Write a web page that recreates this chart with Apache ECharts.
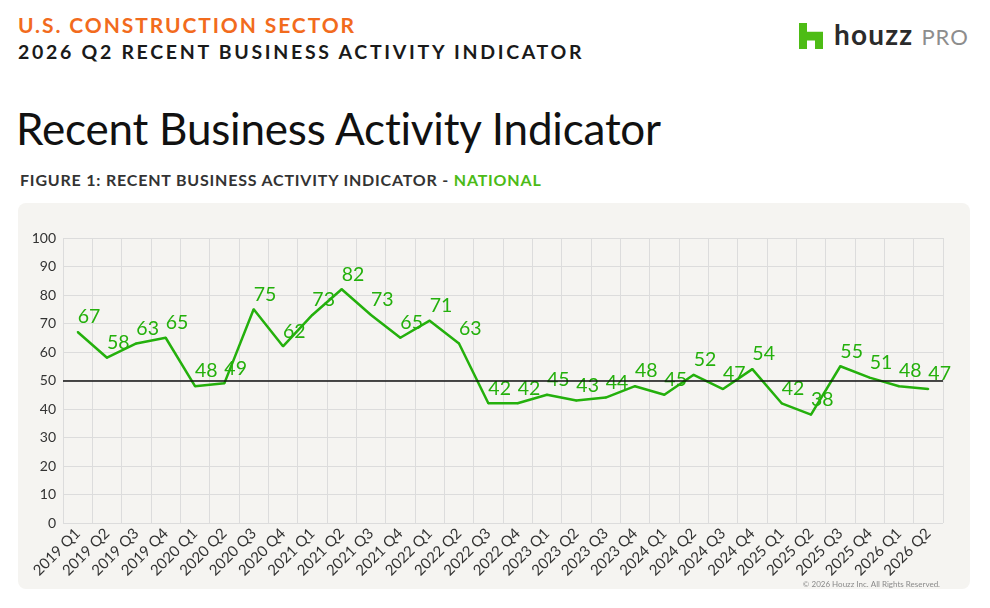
<!DOCTYPE html>
<html>
<head>
<meta charset="utf-8">
<script src="https://cdn.jsdelivr.net/npm/echarts@6/dist/echarts.min.js"></script>
<style>
    html, body { margin: 0; padding: 0; background: #fff; }
    body { width: 990px; height: 608px; position: relative; overflow: hidden; font-family: 'Lato', 'Noto Sans', sans-serif; }
    .kicker { position: absolute; left: 18px; top: 12px; font-size: 21px; font-weight: 700; color: #f26b1d; letter-spacing: 1.9px; }
    .sub { position: absolute; left: 18px; top: 40px; font-size: 19.5px; font-weight: 700; color: #1a1a1a; letter-spacing: 2.7px; }
    .headline { position: absolute; left: 16px; top: 102px; font-size: 44px; font-weight: 400; color: #111; letter-spacing: -0.2px; }
    .figure { position: absolute; left: 20px; top: 170px; font-size: 16px; font-weight: 700; color: #333; letter-spacing: 0.8px; }
    .figure span { color: #4cbb17; }
    .logo { position: absolute; left: 799px; top: 23px; }
    .logo-text { position: absolute; left: 834px; top: 17px; font-size: 28px; font-weight: 700; color: #2b2b2b; letter-spacing: 1.2px; }
    .logo-text span { color: #8d8d8d; font-weight: 400; font-size: 22px; margin-left: 8px; letter-spacing: 1px; }
    .panel { position: absolute; left: 18px; top: 203px; width: 952px; height: 386px; background: #f5f4f1; border-radius: 8px; }
    #chart { position: absolute; left: 0; top: 0; width: 990px; height: 608px; }
</style>
</head>
<body>
<div class="kicker">U.S. CONSTRUCTION SECTOR</div>
<div class="sub">2026 Q2 RECENT BUSINESS ACTIVITY INDICATOR</div>
<svg class="logo" width="24" height="26" viewBox="0 0 3 3.25">
    <polygon points="0,0 1,0 1,1.1 3,1.1 3,3.25 2,3.25 2,2.2 1,2.2 1,3.25 0,3.25" fill="#4dbc15"/>
</svg>
<div class="logo-text">houzz<span>PRO</span></div>
<div class="headline">Recent Business Activity Indicator</div>
<div class="figure">FIGURE 1: RECENT BUSINESS ACTIVITY INDICATOR - <span>NATIONAL</span></div>
<div class="panel"></div>
<div id="chart"></div>
<script>
// 季度
const quarters = [
    '2019 Q1', '2019 Q2', '2019 Q3', '2019 Q4',
    '2020 Q1', '2020 Q2', '2020 Q3', '2020 Q4',
    '2021 Q1', '2021 Q2', '2021 Q3', '2021 Q4',
    '2022 Q1', '2022 Q2', '2022 Q3', '2022 Q4',
    '2023 Q1', '2023 Q2', '2023 Q3', '2023 Q4',
    '2024 Q1', '2024 Q2', '2024 Q3', '2024 Q4',
    '2025 Q1', '2025 Q2', '2025 Q3', '2025 Q4',
    '2026 Q1', '2026 Q2'
]
// 指标值
const activity = [
    67, 58, 63, 65,
    48, 49, 75, 62,
    73, 82, 73, 65,
    71, 63, 42, 42,
    45, 43, 44, 48,
    45, 52, 47, 54,
    42, 38, 55, 51,
    48, 47
]
const baseline = 50
const yTicks = { min: 0, max: 100, interval: 10 }

const green = '#24b00c'
let myChart = echarts.init(document.getElementById('chart'))
let option = {
    animation: false,
    backgroundColor: 'transparent',
    textStyle: { fontFamily: 'Lato, "Noto Sans", sans-serif' },
    grid: { left: 63, right: 47, top: 238, bottom: 85 },
    graphic: [
        {
            type: 'text',
            right: 50,
            top: 580,
            style: { text: '© 2026 Houzz Inc. All Rights Reserved.', fill: '#8a8a8a', fontSize: 8, fontFamily: 'Lato' }
        }
    ],
    xAxis: {
        type: 'category',
        data: quarters,
        boundaryGap: true,
        axisLine: { show: false },
        axisTick: { show: false },
        axisLabel: { interval: 0, rotate: 45, margin: 8, fontSize: 15, color: '#333' },
        splitLine: { show: true, interval: 0, lineStyle: { color: '#dcdcdc', width: 1 } }
    },
    yAxis: {
        type: 'value',
        min: yTicks.min,
        max: yTicks.max,
        interval: yTicks.interval,
        axisLine: { show: false },
        axisTick: { show: false },
        axisLabel: { fontSize: 14, color: '#333', margin: 7 },
        splitLine: { lineStyle: { color: '#dcdcdc', width: 1 } }
    },
    series: [
        {
            name: 'National',
            type: 'line',
            data: activity,
            symbol: 'circle',
            symbolSize: 2,
            showSymbol: true,
            lineStyle: { color: green, width: 2.5 },
            itemStyle: { color: green },
            label: {
                show: true,
                position: 'top',
                align: 'left',
                distance: 4,
                fontSize: 19.5,
                color: green
            },
            labelLayout: { hideOverlap: false },
            markLine: {
                silent: true,
                symbol: 'none',
                label: { show: false },
                lineStyle: { color: '#111', width: 1.5, type: 'solid' },
                data: [{ yAxis: baseline }]
            },
            z: 3
        }
    ]
}
myChart.setOption(option)
</script>
</body>
</html>
